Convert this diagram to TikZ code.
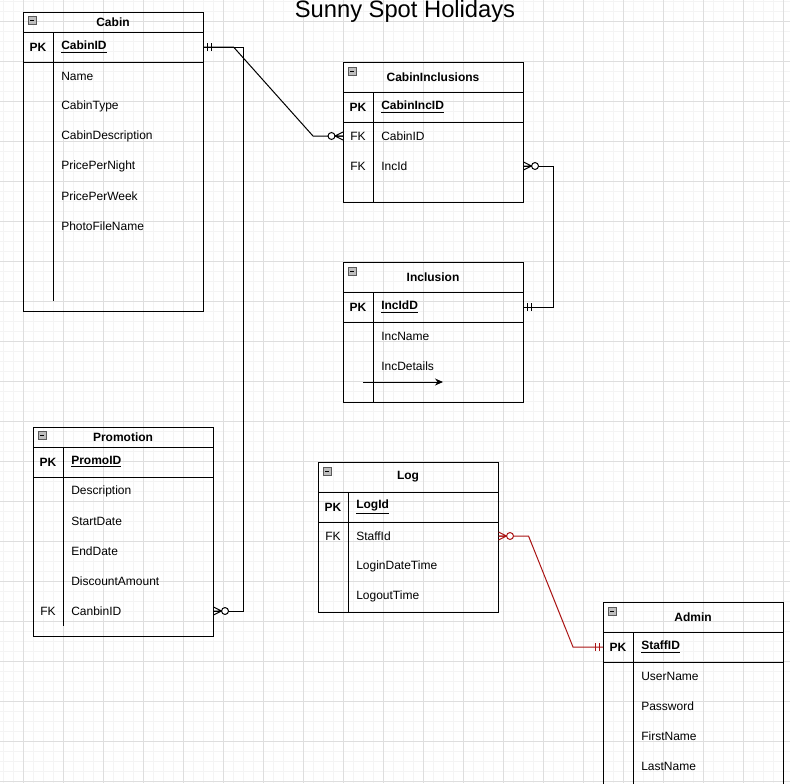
\documentclass[tikz,border=0pt]{standalone}
\usepackage{fontspec}
\setmainfont{Liberation Sans}
\usetikzlibrary{arrows.meta,calc}
\definecolor{erred}{RGB}{170,20,20}
\definecolor{gridmaj}{RGB}{222,222,222}
\definecolor{gridmin}{RGB}{244,244,244}
\definecolor{iconfill}{RGB}{190,190,190}
\tikzset{
  tbl/.style = {draw = black, line width = 0.75pt},
  hdr/.style = {font = \bfseries\fontsize{9}{11}\selectfont},
  pkcell/.style = {font = \bfseries\fontsize{9}{11}\selectfont},
  fkcell/.style = {font = \fontsize{9}{11}\selectfont},
  field/.style = {anchor = west, inner xsep = 6pt, text width = 100.5pt, align = left,
    minimum height = 22.5pt, font = \fontsize{9}{11}\selectfont},
  pkfield/.style = {field, font = \bfseries\fontsize{9}{11}\selectfont},
  link/.style = {line width = 0.75pt},
  one/.pic = {\begin{scope}[xscale = #1]
    \draw[line width = 0.75pt] (4,-4) -- (4,4) (8,-4) -- (8,4);
    \end{scope}},
  zeromany/.pic = {\begin{scope}[xscale = #1]
    \draw[line width = 0.75pt] (0,-4) -- (8,0) -- (0,4) (0,0) -- (8,0);
    \draw[line width = 0.75pt, fill = white] (11.5,0) circle (2.6pt);
    \end{scope}},
  icon/.pic = {\draw[draw = gray!70!black, fill = iconfill, line width = 0.5pt] (5,5) rectangle (13,13);
    \draw[line width = 0.75pt] (7,9) -- (11,9);}
}
\begin{document}
\begin{tikzpicture}[x = 0.75pt, y = -0.75pt]
\useasboundingbox (0,0) rectangle (790,783);
\clip (0,0) rectangle (790,783);
\fill[white] (0,0) rectangle (790,783);
% grid
\foreach \gx in {3,13,...,783} \draw[gridmin, line width = 0.75pt] (\gx,0) -- (\gx,783);
\foreach \gy in {1.7,11.7,...,781.7} \draw[gridmin, line width = 0.75pt] (0,\gy) -- (790,\gy);
\foreach \gx in {23,63,...,783} \draw[gridmaj, line width = 0.75pt] (\gx,0) -- (\gx,783);
\foreach \gy in {21.7,61.7,...,781.7} \draw[gridmaj, line width = 0.75pt] (0,\gy) -- (790,\gy);

\node[font = \fontsize{17.8}{20}\selectfont, anchor = base] (title) at (405,17.3) {Sunny Spot Holidays};

% Cabin
\begin{scope}[shift = {(23,12)}]
\draw[tbl] (0,0) rectangle (180,299);
\draw[tbl] (0,20) -- (180,20) (0,50) -- (180,50) (30,20) -- (30,289);
\pic at (0,-1) {icon};
\node[hdr] (cabinT) at (90,10) {Cabin};
\node[pkcell] at (15,35) {PK};
\node[pkfield] (cabinID) at (30,35) {\underline{CabinID}};
\foreach \f [count = \i] in {Name,CabinType,CabinDescription,PricePerNight,PricePerWeek,PhotoFileName}
  \node[field] (cabinF\i) at (30,34+30*\i) {\f};
\end{scope}

% CabinInclusions
\begin{scope}[shift = {(343,62)}]
\draw[tbl] (0,0) rectangle (180,140);
\draw[tbl] (0,30) -- (180,30) (0,60) -- (180,60) (30,30) -- (30,140);
\pic at (0,0) {icon};
\node[hdr] (cabIncT) at (90,15) {CabinInclusions};
\node[pkcell] at (15,45) {PK};
\node[pkfield] (cabIncID) at (30,45) {\underline{CabinIncID}};
\node[fkcell] at (15,74) {FK};
\node[field] (cabIncCab) at (30,74) {CabinID};
\coordinate (cabIncCabL) at (0,74);
\node[fkcell] at (15,104) {FK};
\node[field] (cabIncInc) at (30,104) {IncId};
\end{scope}

% Inclusion
\begin{scope}[shift = {(343,262)}]
\draw[tbl] (0,0) rectangle (180,140);
\draw[tbl] (0,30) -- (180,30) (0,60) -- (180,60) (30,30) -- (30,140);
\pic at (0,0) {icon};
\node[hdr] (incT) at (90,15) {Inclusion};
\node[pkcell] at (15,45) {PK};
\node[pkfield] (incID) at (30,45) {\underline{IncIdD}};
\node[field] (incName) at (30,74) {IncName};
\node[field] (incDet) at (30,104) {IncDetails};
\coordinate (strayA) at (20,120);
\coordinate (strayB) at (100,120);
\draw[link, -{Stealth[length = 6pt, width = 5.25pt]}] (strayA) -- (strayB);
\end{scope}

% Promotion
\begin{scope}[shift = {(33,427)}]
\draw[tbl] (0,0) rectangle (180,209);
\draw[tbl] (0,20) -- (180,20) (0,50) -- (180,50) (30,20) -- (30,199);
\pic at (0,-1) {icon};
\node[hdr] (promoT) at (90,10) {Promotion};
\node[pkcell] at (15,35) {PK};
\node[pkfield] (promoID) at (30,35) {\underline{PromoID}};
\foreach \f [count = \i] in {Description,StartDate,EndDate,DiscountAmount}
  \node[field] (promoF\i) at (30,34+30*\i) {\f};
\node[fkcell] at (15,184) {FK};
\node[field] (promoCab) at (30,184) {CanbinID};
\end{scope}

% Log
\begin{scope}[shift = {(318,462)}]
\draw[tbl] (0,0) rectangle (180,150);
\draw[tbl] (0,30) -- (180,30) (0,60) -- (180,60) (30,30) -- (30,150);
\pic at (0,0) {icon};
\node[hdr] (logT) at (90,15) {Log};
\node[pkcell] at (15,45) {PK};
\node[pkfield] (logID) at (30,45) {\underline{LogId}};
\node[fkcell] at (15,74) {FK};
\node[field] (logStaff) at (30,74) {StaffId};
\node[field] (logIn) at (30,104) {LoginDateTime};
\node[field] (logOut) at (30,134) {LogoutTime};
\end{scope}

% Admin
\begin{scope}[shift = {(603,602)}]
\draw[tbl] (0,0) rectangle (180,200);
\draw[tbl] (0,30) -- (180,30) (0,60) -- (180,60) (30,30) -- (30,200);
\pic at (0,0) {icon};
\node[hdr] (adminT) at (90,15) {Admin};
\node[pkcell] at (15,45) {PK};
\node[pkfield] (adminStaff) at (30,45) {\underline{StaffID}};
\coordinate (adminStaffL) at (0,45);
\foreach \f [count = \i] in {UserName,Password,FirstName,LastName}
  \node[field] (adminF\i) at (30,44+30*\i) {\f};
\end{scope}

% relations
\draw[link] (cabinID.east) -- ++(40,0) |- (promoCab.east);
\draw[link] (cabinID.east) -- ++(30,0) -- ($(cabIncCabL)+(-30,0)$) -- (cabIncCabL);
\draw[link] (cabIncInc.east) -- ++(30,0) |- (incID.east);
\draw[link, erred] (logStaff.east) -- ++(30,0) -- ($(adminStaffL)+(-30,0)$) -- (adminStaffL);

\pic at (cabinID.east) {one=1};
\pic at (promoCab.east) {zeromany=1};
\pic at (cabIncCabL) {zeromany=-1};
\pic at (cabIncInc.east) {zeromany=1};
\pic at (incID.east) {one=1};
\pic[color = erred] at (logStaff.east) {zeromany=1};
\pic[color = erred] at (adminStaffL) {one=-1};
\end{tikzpicture}
\end{document}
